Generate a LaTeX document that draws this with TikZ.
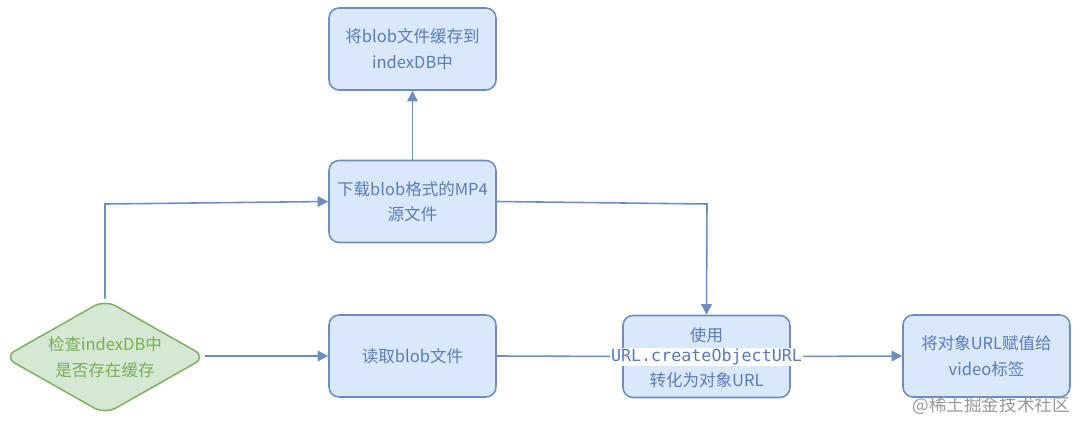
\documentclass[tikz,border=0pt]{standalone}
\usepackage{fontspec}
\setmainfont{Noto Sans CJK SC}
\newfontfamily\cjk{Noto Sans CJK SC}
\newfontfamily\monof{DejaVu Sans Mono}
\usetikzlibrary{shapes.geometric,arrows.meta}
\definecolor{bfill}{HTML}{DAE8FC}
\definecolor{bline}{HTML}{6C8EBF}
\definecolor{btext}{HTML}{5B7BB4}
\definecolor{gfill}{HTML}{D5E8D4}
\definecolor{gline}{HTML}{82B366}
\definecolor{gtext}{HTML}{7AAE55}
\tikzset{
  txt/.style={font=\cjk\fontsize{9.4}{14.5}\selectfont},
  bbox/.style={draw=bline, fill=bfill, rounded corners=0.2cm, line width=0.9pt,
    minimum width=3.34cm, minimum height=1.64cm, align=center, text=btext, txt},
  dia/.style={diamond, draw=gline, fill=gfill, line width=0.9pt, rounded corners=0.25cm,
    minimum width=4.05cm, minimum height=2.3cm, inner sep=0pt},
  conn/.style={draw=bline, line width=0.9pt, -{Triangle[length=6pt,width=6pt]}}
}
\begin{document}
\begin{tikzpicture}[x=0.02cm,y=-0.02cm]
\useasboundingbox (0,0) rectangle (1080,422);
\node[bbox] (top) at (412.5,49) {将blob文件缓存到\\indexDB中};
\node[bbox] (down) at (412.5,201.5) {下载blob格式的MP4\\源文件};
\node[bbox] (read) at (412.5,356) {读取blob文件};
\node[bbox] (use) at (706.5,356.5) {};
\node[bbox] (assign) at (986.5,356) {将对象URL赋值给\\video标签};
\node[dia] (chk) at (105,357) {};
\node[text=gtext, txt, align=center] (chktxt) at (chk.center) {检查indexDB中\\是否存在缓存};
\coordinate (c1) at (105,204);
\coordinate (c2) at (707,204);
\coordinate (de) at (205,356);
\draw[conn] (chk.north) -- (c1) -- (down.west);
\draw[conn] (down.north) -- (top.south);
\draw[conn] (de) -- (read.west);
\draw[conn] (read.east) -- (use.west);
\draw[conn] (down.east) -- (c2) -- (use.north);
\draw[conn] (use.east) -- (assign.west);
\node[text=btext, txt] (t1) at (706.5,335) {使用};
\node[fill=white, text=btext, inner sep=0.5pt, font=\monof\fontsize{9.5}{11}\selectfont] (t2) at (706.5,357) {URL.createObjectURL};
\node[text=btext, txt] (t3) at (706.5,380) {转化为对象URL};
\node[text=black!40, font=\cjk\fontsize{10}{11}\selectfont, anchor=east] (wm) at (1076,406) {@稀土掘金技术社区};
\end{tikzpicture}
\end{document}
